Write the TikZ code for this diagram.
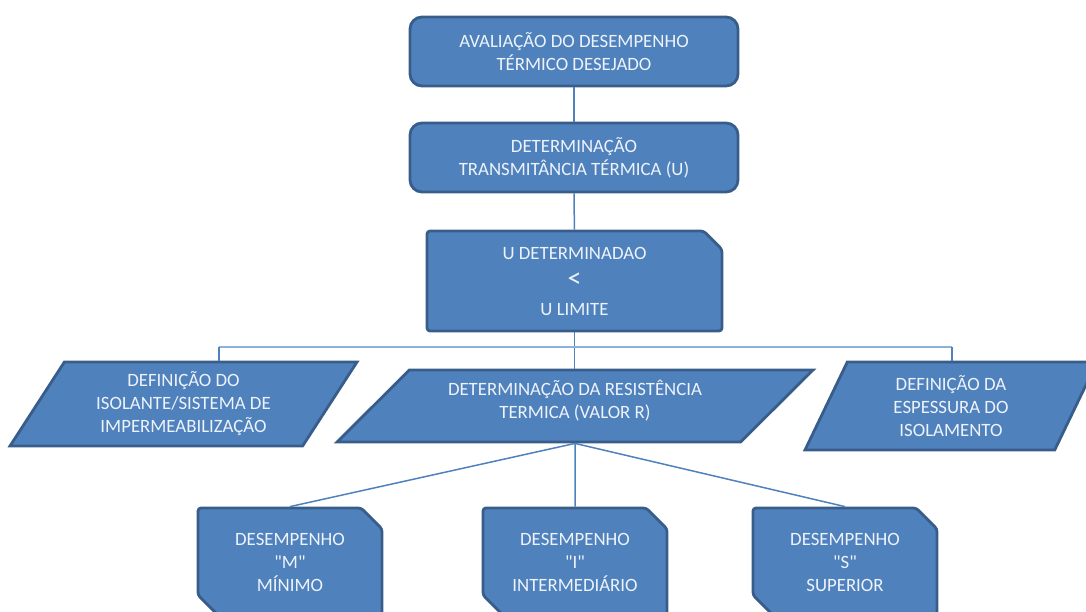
\documentclass[tikz,border=0pt]{standalone}
\usepackage{fontspec}
\setmainfont{Carlito}[Ligatures=TeXOff]
\usetikzlibrary{shapes.geometric,shapes.misc}

\definecolor{boxfill}{HTML}{4F81BD}
\definecolor{boxline}{HTML}{385D8A}
\definecolor{boxtext}{HTML}{EEF3FA}
\definecolor{linkblue}{HTML}{4F81BD}
\definecolor{buslight}{HTML}{8EB1DB}

\tikzstyle{box} = [draw=boxline, fill=boxfill, line width=1.4pt, text=boxtext, align=center, inner sep=1pt, font=\fontsize{9.4}{11.5}\selectfont]
\tikzstyle{roundbox} = [box, rectangle, rounded corners=6pt, minimum width=164pt, minimum height=34.5pt]
\tikzstyle{snipbox} = [box, chamfered rectangle, chamfered rectangle xsep=5.2pt, chamfered rectangle ysep=5.2pt, rounded corners=1.5pt]
\tikzstyle{para} = [box, trapezium, trapezium stretches body]
\tikzstyle{link} = [draw=linkblue, line width=0.75pt]

\begin{document}
\begin{tikzpicture}[x=0.5pt,y=-0.5pt]

	\clip (0,0) rectangle (1086,611); % page

	% top chain
	\node[roundbox] (aval) at (574,51.5) {AVALIAÇÃO DO DESEMPENHO\\TÉRMICO DESEJADO};
	\node[roundbox] (transm) at (574,157.5) {DETERMINAÇÃO\\TRANSMITÂNCIA TÉRMICA (U)};
	\node[snipbox, chamfered rectangle corners=north east, chamfered rectangle xsep=4.6pt, chamfered rectangle ysep=4.6pt, minimum width=147.5pt, minimum height=50pt, font=\fontsize{9.4}{14}\selectfont] (ulim) at (574.5,281) {U DETERMINADAO\\{\fontsize{14}{14}\selectfont <}\\U LIMITE};

	% parallelograms
	\node[para, trapezium left angle=51.4, trapezium right angle=128.6, minimum width=173.5pt, minimum height=42pt] (iso) at (183.5,404) {DEFINIÇÃO DO\\ISOLANTE/SISTEMA DE\\IMPERMEABILIZAÇÃO};
	\node[para, trapezium left angle=37.4, trapezium right angle=142.6, minimum width=238pt, minimum height=36pt] (resist) at (575,406) {DETERMINAÇÃO DA RESISTÊNCIA\\TERMICA (VALOR R)\\[-5pt]};
	\node[para, trapezium left angle=57, trapezium right angle=123, minimum width=146pt, minimum height=44pt] (esp) at (951,406) {DEFINIÇÃO DA\\ESPESSURA DO\\ISOLAMENTO};

	% desempenho
	\node[snipbox, chamfered rectangle corners={north east,south west}, minimum width=92pt, minimum height=54pt] (dm) at (290,562) {DESEMPENHO\\"M"\\MÍNIMO};
	\node[snipbox, chamfered rectangle corners={north east,south west}, minimum width=92pt, minimum height=54pt] (di) at (575,562) {DESEMPENHO\\"I"\\INTERMEDIÁRIO};
	\node[snipbox, chamfered rectangle corners={north east,south west}, minimum width=92pt, minimum height=54pt] (ds) at (845,562) {DESEMPENHO\\"S"\\SUPERIOR};

	% links
	\draw[link] (aval) -- (transm);
	\draw[link] (transm) -- (ulim);
	\draw[link] (ulim.south) -- (ulim.south |- resist.north);

	\coordinate (busl) at (219,347);
	\coordinate (busr) at (952,347);
	\draw[draw=buslight, line width=0.75pt] (busl) -- (busr);
	\draw[link] (busl) -- (busl |- iso.north);
	\draw[link] (busr) -- (busr |- esp.north);

	\draw[link] (resist.south) -- (dm.north);
	\draw[link] (resist.south) -- (di.north);
	\draw[link] (resist.south) -- (ds.north);

\end{tikzpicture}
\end{document}
